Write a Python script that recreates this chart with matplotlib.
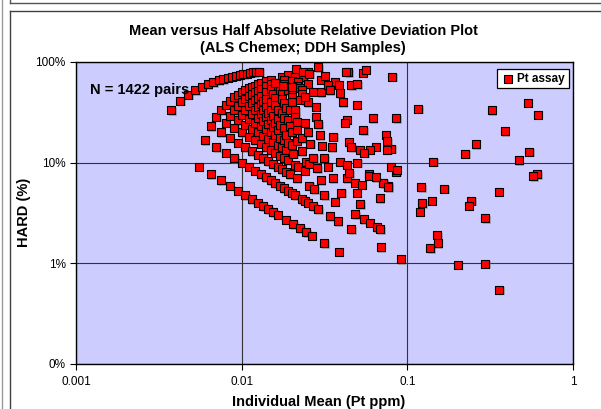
"""Mean vs HARD plot - ALS Chemex DDH duplicate Pt assays"""
import matplotlib
matplotlib.use('Agg')
import matplotlib.pyplot as plt
from matplotlib.lines import Line2D
from matplotlib.ticker import NullLocator
from matplotlib.transforms import offset_copy

plt.rcParams['font.family'] = ['Liberation Sans', 'DejaVu Sans']

# ---- data ----
# upper arc: pairs where the lower assay sits at half detection limit
arc_mean = [0.00375, 0.00425, 0.00475, 0.00525, 0.00575, 0.00625, 0.00675, 0.00725,
            0.00775, 0.00825, 0.00875, 0.00925, 0.00975, 0.01025, 0.01075, 0.01125,
            0.01175, 0.01225, 0.01275]
arc_hard = [0.3333, 0.4118, 0.4737, 0.5238, 0.5652, 0.6, 0.6296, 0.6552,
            0.6774, 0.6970, 0.7143, 0.7297, 0.7436, 0.7561, 0.7674, 0.7778,
            0.7872, 0.7959, 0.8039]

# dense cloud of low grade pairs (grouped by lower assay)
cloud_mean = [
    0.0055, 0.006, 0.0065, 0.007, 0.0075, 0.008, 0.0085, 0.009, 0.0095, 0.010, 0.0105,
    0.011, 0.0115, 0.012, 0.0125, 0.013, 0.014, 0.015, 0.0175, 0.019, 0.025,
    0.0065, 0.007, 0.0075, 0.008, 0.0085, 0.009, 0.0095, 0.010, 0.0105, 0.011, 0.0115,
    0.012, 0.0125, 0.013, 0.014, 0.015, 0.016, 0.018, 0.021, 0.025,
    0.0075, 0.008, 0.0085, 0.009, 0.0095, 0.010, 0.0105, 0.011, 0.0115, 0.012, 0.0125,
    0.013, 0.014, 0.015, 0.0165, 0.018, 0.020, 0.0235,
    0.0085, 0.009, 0.0095, 0.010, 0.0105, 0.011, 0.0115, 0.012, 0.0125, 0.013, 0.0135,
    0.014, 0.0155, 0.017, 0.0185, 0.022,
    0.0095, 0.010, 0.0105, 0.011, 0.0115, 0.012, 0.0125, 0.013, 0.0135, 0.014, 0.015,
    0.016, 0.0175, 0.019, 0.0215,
    0.0105, 0.011, 0.0115, 0.012, 0.0125, 0.013, 0.0135, 0.014, 0.0145, 0.015, 0.016,
    0.0175, 0.020, 0.0225, 0.025, 0.030,
    0.0115, 0.012, 0.0125, 0.013, 0.0135, 0.014, 0.0145, 0.015, 0.0155, 0.0165, 0.018,
    0.020, 0.023,
    0.0125, 0.013, 0.0135, 0.014, 0.0145, 0.015, 0.0155, 0.016, 0.0165, 0.0175, 0.0185,
    0.020, 0.023,
    0.0135, 0.014, 0.0145, 0.015, 0.0155, 0.016, 0.0165, 0.017, 0.018, 0.0195, 0.0225,
    0.0145, 0.015, 0.0155, 0.016, 0.0165, 0.017, 0.018, 0.019, 0.021, 0.024,
    0.0155, 0.016, 0.0165, 0.017, 0.0175, 0.018, 0.0185, 0.0195, 0.021, 0.025, 0.030,
    0.0165, 0.017, 0.0175, 0.018, 0.0185, 0.019, 0.020, 0.0215,
    0.018, 0.0185, 0.019, 0.020, 0.0215,
    0.0185, 0.019, 0.0195, 0.0205, 0.0215, 0.024,
    0.020, 0.021, 0.023,
    0.0205, 0.021, 0.0215, 0.022, 0.023, 0.025, 0.028,
    0.0225, 0.023, 0.024, 0.0245, 0.026, 0.029,
    0.024, 0.0255,
    0.0245, 0.025, 0.0255, 0.027, 0.0295,
    0.0265, 0.027, 0.0275, 0.0285, 0.0305,
    0.029, 0.030, 0.0315,
    0.0315, 0.033, 0.035, 0.0315,
    0.034, 0.0355, 0.0365, 0.039, 0.038, 0.0385, 0.040, 0.043, 0.0445,
    0.046, 0.050, 0.0485, 0.0495, 0.052, 0.0545, 0.0585, 0.0595, 0.0655,
    0.068, 0.0685, 0.0715, 0.069, 0.0765, 0.086, 0.091,
]
cloud_hard = [
    0.0909, 0.1667, 0.2308, 0.2857, 0.3333, 0.375, 0.4118, 0.4444, 0.4737, 0.5, 0.5238,
    0.5455, 0.5652, 0.5833, 0.6, 0.6154, 0.6429, 0.6667, 0.7143, 0.7368, 0.8,
    0.0769, 0.1429, 0.2, 0.25, 0.2941, 0.3333, 0.3684, 0.4, 0.4286, 0.4545, 0.4783,
    0.5, 0.52, 0.5385, 0.5714, 0.6, 0.625, 0.6667, 0.7143, 0.76,
    0.0667, 0.125, 0.1765, 0.2222, 0.2632, 0.3, 0.3333, 0.3636, 0.3913, 0.4167, 0.44,
    0.4615, 0.5, 0.5333, 0.5758, 0.6111, 0.65, 0.7021,
    0.0588, 0.1111, 0.1579, 0.2, 0.2381, 0.2727, 0.3043, 0.3333, 0.36, 0.3846, 0.4074,
    0.4286, 0.4839, 0.5294, 0.5676, 0.6364,
    0.0526, 0.1, 0.1429, 0.1818, 0.2174, 0.25, 0.28, 0.3077, 0.3333, 0.3571, 0.4,
    0.4375, 0.4857, 0.5263, 0.5814,
    0.0476, 0.0909, 0.1304, 0.1667, 0.2, 0.2308, 0.2593, 0.2857, 0.3103, 0.3333, 0.375,
    0.4286, 0.5, 0.5556, 0.6, 0.6667,
    0.0435, 0.0833, 0.12, 0.1538, 0.1852, 0.2143, 0.2414, 0.2667, 0.2903, 0.3333, 0.3889,
    0.45, 0.5217,
    0.04, 0.0769, 0.1111, 0.1429, 0.1724, 0.2, 0.2258, 0.25, 0.2727, 0.3143, 0.3514,
    0.4, 0.4783,
    0.037, 0.0714, 0.1034, 0.1333, 0.1613, 0.1875, 0.2121, 0.2353, 0.2778, 0.3333, 0.4222,
    0.0345, 0.0667, 0.0968, 0.125, 0.1515, 0.1765, 0.2222, 0.2632, 0.3333, 0.4167,
    0.0323, 0.0625, 0.0909, 0.1176, 0.1429, 0.1667, 0.1892, 0.2308, 0.2857, 0.4, 0.5,
    0.0303, 0.0588, 0.0857, 0.1111, 0.1351, 0.1579, 0.2, 0.2558,
    0.0556, 0.0811, 0.1053, 0.15, 0.2093,
    0.027, 0.0526, 0.0769, 0.122, 0.1628, 0.25,
    0.05, 0.0952, 0.1739,
    0.0244, 0.0476, 0.0698, 0.0909, 0.1304, 0.2, 0.2857,
    0.0222, 0.0435, 0.0833, 0.102, 0.1538, 0.2414,
    0.0417, 0.098,
    0.0204, 0.04, 0.0588, 0.1111, 0.1864,
    0.0189, 0.037, 0.0545, 0.0877, 0.1475,
    0.0345, 0.0667, 0.1111,
    0.0476, 0.0909, 0.1429, 0.0159,
    0.0294, 0.0704, 0.0411, 0.1026, 0.0263, 0.013, 0.05, 0.0698, 0.0787,
    0.0217, 0.1, 0.0309, 0.0505, 0.0385, 0.0275, 0.0769, 0.0252, 0.0229,
    0.0441, 0.0219, 0.0629, 0.0145, 0.0588, 0.0814, 0.011,
]

# scattered mid-grade pairs with large deviations
mid_mean = [0.0214, 0.029, 0.0318, 0.044, 0.0537, 0.0562, 0.0811, 0.046, 0.050, 0.0407,
            0.0494, 0.062, 0.0857, 0.0542, 0.0743, 0.0755, 0.080, 0.0755, 0.0646, 0.0796,
            0.0866, 0.0589, 0.0714, 0.0765, 0.0365, 0.0385, 0.0428, 0.0331, 0.034, 0.039,
            0.0269, 0.024, 0.028, 0.0201, 0.0177, 0.016, 0.043, 0.042, 0.0444, 0.046,
            0.0517, 0.0593, 0.055, 0.0356, 0.043, 0.048, 0.053, 0.0646, 0.0235, 0.0255]
mid_hard = [0.846, 0.886, 0.726, 0.79, 0.783, 0.839, 0.71, 0.59, 0.60, 0.398,
            0.375, 0.276, 0.276, 0.211, 0.19, 0.164, 0.137, 0.134, 0.144, 0.0913,
            0.085, 0.0742, 0.0626, 0.057, 0.638, 0.59, 0.80, 0.59, 0.526, 0.49,
            0.507, 0.45, 0.358, 0.57, 0.578, 0.614, 0.267, 0.248, 0.16, 0.143,
            0.134, 0.134, 0.125, 0.18, 0.095, 0.063, 0.06, 0.072, 0.80, 0.76]

# higher grade pairs (> 0.1 ppm)
high_mean = [0.1164, 0.3226, 0.535, 0.614, 0.387, 0.259, 0.2234, 0.1433, 0.544, 0.469,
             0.608, 0.575, 0.121, 0.167, 0.356, 0.123, 0.140, 0.1186, 0.243, 0.2345,
             0.295, 0.1515, 0.153, 0.1374, 0.202, 0.295, 0.3586]
high_hard = [0.344, 0.331, 0.392, 0.30, 0.205, 0.153, 0.122, 0.102, 0.128, 0.106,
             0.0767, 0.0733, 0.057, 0.055, 0.0515, 0.0395, 0.0417, 0.0326, 0.042, 0.0374,
             0.028, 0.0191, 0.0159, 0.0142, 0.00964, 0.0099, 0.00548]

x_ticks = [0.001, 0.01, 0.1, 1]
x_tick_labels = ['0.001', '0.01', '0.1', '1']
y_ticks = [0.001, 0.01, 0.1, 1]
y_tick_labels = ['0%', '1%', '10%', '100%']

mean_all = arc_mean + cloud_mean + mid_mean + high_mean
hard_all = arc_hard + cloud_hard + mid_hard + high_hard

# ---- figure ----
W, H = 601, 409
fig = plt.figure(figsize=(W / 100, H / 100), dpi=100)
fig.patch.set_facecolor('white')


def fx(px):
    return px / W


def fy(py):
    return 1 - py / H


ax = fig.add_axes([fx(76), fy(364), (573 - 76) / W, (364 - 62) / H])
ax.set_facecolor('#CCCCFF')
ax.set_xscale('log')
ax.set_yscale('log')
ax.set_xlim(0.001, 1)
ax.set_ylim(0.001, 1)
ax.set_xticks(x_ticks)
ax.set_xticklabels(x_tick_labels)
ax.set_yticks(y_ticks)
ax.set_yticklabels(y_tick_labels)
ax.xaxis.set_minor_locator(NullLocator())
ax.yaxis.set_minor_locator(NullLocator())
ax.tick_params(direction='out', length=4.5, width=0.8, labelsize=8.5, colors='black')
ax.tick_params(axis='x', pad=4)
ax.tick_params(axis='y', pad=3)
ax.grid(True, which='major', color='#333333', lw=0.8, zorder=1)
ax.set_axisbelow(True)
for sp in ax.spines.values():
    sp.set_color('black')
    sp.set_linewidth(1.0)

# marker shadow like Excel
shadow = offset_copy(ax.transData, fig=fig, x=1.5, y=-1.5, units='dots')
ax.scatter(mean_all, hard_all, marker='s', s=40, c='#777777', alpha=0.45,
           linewidths=0, transform=shadow, zorder=2)
ax.scatter(mean_all, hard_all, marker='s', s=40, c='#FF0000', edgecolors='black',
           linewidths=0.8, zorder=3, label='Pt assay')

leg = ax.legend(loc='upper right', bbox_to_anchor=(0.991, 0.976), borderaxespad=0,
                frameon=True, fancybox=False, edgecolor='black', framealpha=1,
                prop={'weight': 'bold', 'size': 8.5}, handletextpad=0.2,
                borderpad=0.3, handlelength=1.2, markerscale=0.8)
leg.get_frame().set_linewidth(0.9)

# texts
fig.text(fx(303), fy(31), 'Mean versus Half Absolute Relative Deviation Plot',
         ha='center', va='center', fontsize=10.5, fontweight='bold')
fig.text(fx(303), fy(48), '(ALS Chemex; DDH Samples)',
         ha='center', va='center', fontsize=10.5, fontweight='bold')
fig.text(fx(90), fy(90), 'N = 1422 pairs', ha='left', va='center',
         fontsize=10.5, fontweight='bold', zorder=5)
fig.text(fx(24), fy(212), 'HARD (%)', rotation=90, ha='center', va='center',
         fontsize=10.5, fontweight='bold')
fig.text(fx(319), fy(402), 'Individual Mean (Pt ppm)', ha='center', va='center',
         fontsize=10.5, fontweight='bold')

# chart frame (and edge of the chart above, cropped)
fig.add_artist(Line2D([fx(9.5), fx(9.5)], [fy(10.5), 0], color='#404040', lw=1.0))
fig.add_artist(Line2D([fx(9.5), 1], [fy(10.5), fy(10.5)], color='#404040', lw=1.0))
fig.add_artist(Line2D([fx(9.5), 1], [fy(2.5), fy(2.5)], color='#555555', lw=1.0))
fig.add_artist(Line2D([fx(9.5), fx(9.5)], [1, fy(2.5)], color='#555555', lw=1.0))
fig.add_artist(Line2D([fx(1.5), fx(1.5)], [1, 0], color='#999999', lw=1.0))

fig.savefig('out.png', dpi=100, facecolor='white')
plt.close(fig)
